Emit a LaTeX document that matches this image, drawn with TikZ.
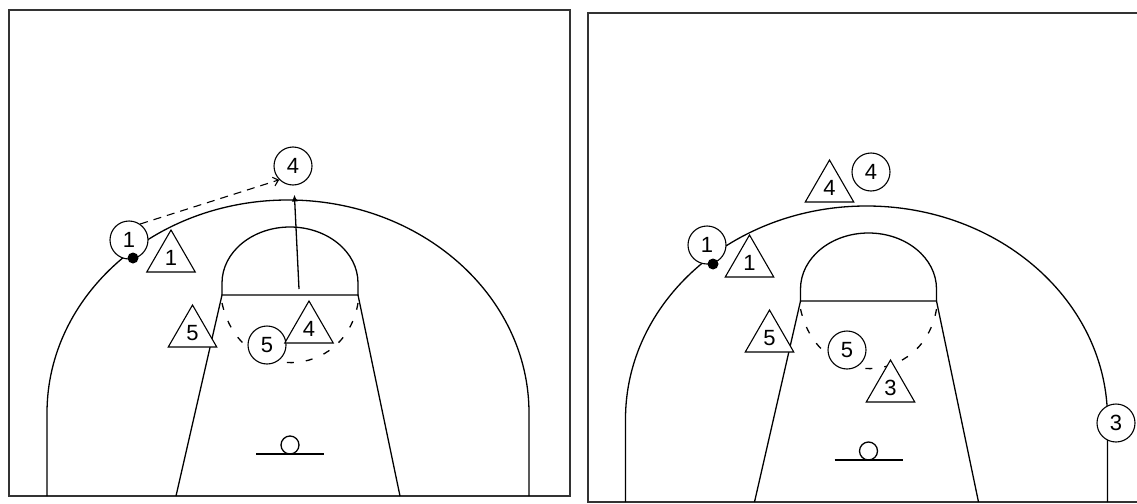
\documentclass[tikz,border=0pt]{standalone}
\usepackage{fontspec}
\setmainfont{Liberation Sans}
\usetikzlibrary{arrows.meta,shapes.geometric}

\begin{document}
\begin{tikzpicture}[
    x=1pt, y=-1pt,
    court/.style={line width=1.3pt},
    frame/.style={line width=1.8pt, draw=black!80},
    offense/.style={circle, draw, line width=1.1pt, fill=white, minimum size=38, inner sep=0, font=\fontsize{22}{22}\selectfont},
    defense/.style={regular polygon, regular polygon sides=3, draw, line width=1.1pt, fill=white, minimum size=56, inner sep=0, font=\fontsize{22}{22}\selectfont},
    ball/.style={circle, fill=black, minimum size=11, inner sep=0},
    pass/.style={line width=1.1pt, dash pattern=on 8pt off 6pt, -{Straight Barb[length=5pt,width=9pt]}},
    cut/.style={line width=1.3pt, -{Latex[length=7pt,width=6pt]}},
    screen/.style={line width=1.3pt, dash pattern=on 7pt off 12pt}
]
\useasboundingbox (0,0) rectangle (1137,503);

% Frames
\draw[frame] (9,10) rectangle (570,496);
\draw[frame] (1137,13) -- (588,13) -- (588,502) -- (1137,502);

% Half courts
\foreach \dx/\dy in {0/0, 578.5/6} {
  \begin{scope}[shift={(\dx,\dy)}]
    \draw[court] (47,496) -- (47,413) arc[start angle=180, end angle=360, x radius=241, y radius=213] -- (529,496);
    \draw[court] (176,496) -- (222,295) -- (358,295) -- (400,496);
    \draw[court] (222,295) -- (222,283) arc[start angle=180, end angle=360, x radius=68, y radius=56] -- (358,295);
    \draw[court] (256,454) -- (324,454);
    \draw[court] (290,445) circle[radius=9];
    \draw[screen] (222,303) .. controls (240,385) and (345,380) .. (358,303);
  \end{scope}
}

% Left play
\node[offense] (o1) at (129,240) {1};
\node[offense] (o4) at (293,166) {4};
\node[offense] (o5) at (267,345) {5};
\node[defense] (d1) at (171,258) {1};
\node[defense] (d5) at (192.5,333) {5};
\node[defense] (d4) at (309,329) {4};
\node[ball] (ball1) at (133,258) {};
\coordinate (cutstart) at (299,289);

\draw[pass] (o1.55) -- (o4.225);
\draw[cut, shorten >=9pt] (cutstart) -- (o4);

% Right play
\node[offense] (ro1) at (707,245) {1};
\node[offense] (ro4) at (871,172) {4};
\node[offense] (ro5) at (847,350) {5};
\node[offense] (ro3) at (1116,423) {3};
\node[defense] (rd1) at (749.5,263) {1};
\node[defense] (rd4) at (829.5,188) {4};
\node[defense] (rd5) at (769.5,338) {5};
\node[defense] (rd3) at (890.5,388) {3};
\node[ball] (ball2) at (713,264) {};

\end{tikzpicture}
\end{document}
